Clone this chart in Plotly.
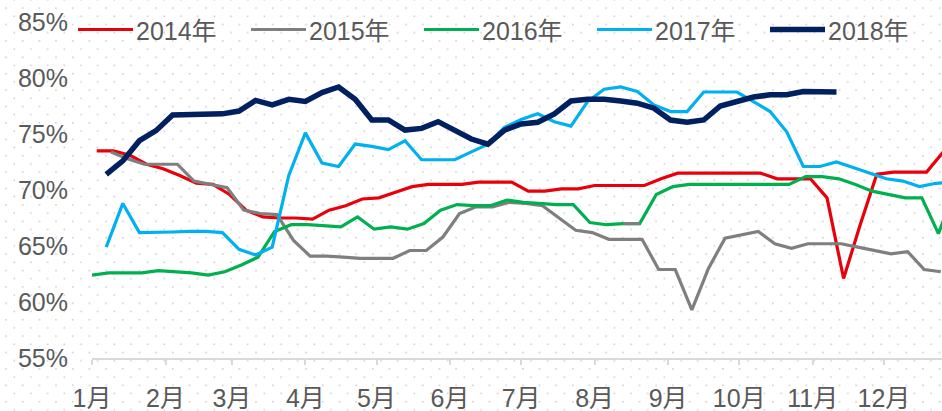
import base64
import plotly.graph_objects as go

# ---------------- data ----------------
series_names = ["2014年", "2015年", "2016年", "2017年", "2018年"]
# first observation day-of-year for each year (weekly data afterwards)
first_day = [3, 9, 1, 7, 7]

v2014 = [73.5, 73.5, 73.1, 72.3, 71.9, 71.3, 70.6, 70.5, 69.6, 68.2,
         67.6, 67.5, 67.5, 67.4, 68.2, 68.6, 69.2, 69.3, 69.8, 70.3,
         70.5, 70.5, 70.5, 70.7, 70.7, 70.7, 69.9, 69.9, 70.1, 70.1,
         70.4, 70.4, 70.4, 70.4, 71.0, 71.5, 71.5, 71.5, 71.5, 71.5,
         71.5, 71.0, 71.0, 71.0, 69.3, 62.1, 66.9, 71.4, 71.6, 71.6,
         71.6, 73.4]
v2015 = [73.4, 72.8, 72.3, 72.3, 72.3, 70.8, 70.5, 70.2, 68.2, 67.9,
         67.8, 65.5, 64.1, 64.1, 64.0, 63.9, 63.9, 63.9, 64.6, 64.6,
         65.8, 67.9, 68.5, 68.5, 68.9, 68.8, 68.6, 67.5, 66.4, 66.2,
         65.6, 65.6, 65.6, 62.9, 62.9, 59.3, 63.0, 65.7, 66.0, 66.3,
         65.2, 64.8, 65.2, 65.2, 65.2, 64.9, 64.6, 64.3, 64.5, 62.9,
         62.7]
v2016 = [62.4, 62.6, 62.6, 62.6, 62.8, 62.7, 62.6, 62.4, 62.7, 63.3,
         64.0, 66.3, 66.9, 66.9, 66.8, 66.7, 67.6, 66.5, 66.7, 66.5,
         67.0, 68.2, 68.7, 68.6, 68.6, 69.1, 68.9, 68.8, 68.7, 68.7,
         67.1, 66.9, 67.0, 67.0, 69.6, 70.3, 70.5, 70.5, 70.5, 70.5,
         70.5, 70.5, 70.5, 71.2, 71.2, 71.0, 70.5, 69.9, 69.6, 69.3,
         69.3, 66.1, 70.0]
v2017 = [64.9, 68.8, 66.2, 66.2, 66.25, 66.3, 66.3, 66.2, 64.7, 64.2,
         64.9, 71.3, 75.1, 72.4, 72.1, 74.1, 73.9, 73.6, 74.4, 72.7,
         72.7, 72.7, 73.4, 74.1, 75.6, 76.3, 76.8, 76.1, 75.7, 77.9,
         79.0, 79.2, 78.8, 77.6, 77.0, 77.0, 78.75, 78.75, 78.75, 77.9,
         77.0, 75.2, 72.1, 72.1, 72.5, 72.0, 71.5, 71.0, 70.8, 70.3,
         70.6, 70.7]
v2018 = [71.4, 72.6, 74.4, 75.3, 76.7, 76.7, 76.8, 76.8, 77.05, 78.0,
         77.6, 78.1, 77.9, 78.7, 79.2, 78.1, 76.25, 76.25, 75.35, 75.5,
         76.1, 75.3, 74.55, 74.1, 75.35, 75.9, 76.05, 76.8, 77.95, 78.1,
         78.1, 77.95, 77.75, 77.3, 76.25, 76.05, 76.25, 77.5, 77.95, 78.3,
         78.5, 78.5, 78.8, 78.8, 78.75]
values = [v2014, v2015, v2016, v2017, v2018]

month_labels = ["1月", "2月", "3月", "4月", "5月", "6月", "7月", "8月",
                "9月", "10月", "11月", "12月"]
month_start_day = [1, 32, 60, 91, 121, 152, 182, 213, 244, 274, 305, 335]
y_ticks = [55, 60, 65, 70, 75, 80, 85]

# ---------------- style ----------------
colors = ["#E8000B", "#7F7F7F", "#00B050", "#00B0F0", "#002060"]
widths = [3.2, 3.2, 3.2, 3.2, 5.5]
W, H = 942, 411
ML, MR, MT, MB = 92, 0, 22, 53
PW, PH = W - ML - MR, H - MT - MB
FONT = "Liberation Sans, Arial, Noto Sans CJK SC, sans-serif"
TXT = "#595959"


def pxx(px):
    return (px - ML) / PW


def pxy(py):
    return (H - MB - py) / PH


fig = go.Figure()
for name, fd, vals, c, w in zip(series_names, first_day, values, colors, widths):
    xs = [fd + 7 * i for i in range(len(vals))]
    fig.add_trace(go.Scatter(x=xs, y=vals, mode="lines", name=name,
                             line=dict(color=c, width=w), showlegend=False,
                             hoverinfo="skip"))
    if name == "2016年":
        # short grey segment visible on the 2016 line in the original
        fig.add_trace(go.Scatter(x=xs[32:34], y=vals[32:34], mode="lines",
                                 line=dict(color="#7F7F7F", width=w),
                                 showlegend=False, hoverinfo="skip"))

# custom legend (long line samples like the original)
shapes = []
annotations = []
for k, (name, c, w) in enumerate(zip(series_names, colors, widths)):
    x0 = 78 + 173 * k
    shapes.append(dict(type="line", xref="paper", yref="paper",
                       x0=pxx(x0), x1=pxx(x0 + 55), y0=pxy(29.5), y1=pxy(29.5),
                       line=dict(color=c, width=w)))
    annotations.append(dict(text=name, xref="paper", yref="paper",
                            x=pxx(x0 + 56), y=pxy(31), xanchor="left",
                            yanchor="middle", showarrow=False,
                            font=dict(family=FONT, size=25, color=TXT)))

# dotted background pattern
svg = (
    f"<svg xmlns='http://www.w3.org/2000/svg' width='{W}' height='{H}' "
    f"viewBox='0 0 {W} {H}'><defs><pattern id='p' patternUnits='userSpaceOnUse' "
    "x='5.2' y='7.3' width='16.67' height='16.4'>"
    "<rect x='0' y='0' width='1.6' height='1.6' fill='#cfcfcf'/>"
    "<rect x='8.335' y='8.2' width='1.6' height='1.6' fill='#cfcfcf'/>"
    "</pattern></defs><rect x='0' y='0' width='100%' height='100%' fill='url(#p)'/></svg>"
)
src = "data:image/svg+xml;base64," + base64.b64encode(svg.encode()).decode()

fig.update_layout(
    width=W, height=H, autosize=False,
    margin=dict(l=ML, r=MR, t=MT, b=MB, pad=0, autoexpand=False),
    paper_bgcolor="white", plot_bgcolor="rgba(0,0,0,0)",
    font=dict(family=FONT, size=25, color=TXT),
    shapes=shapes, annotations=annotations,
    images=[dict(source=src, xref="paper", yref="paper",
                 x=-ML / PW, y=1 + MT / PH, sizex=W / PW, sizey=H / PH,
                 xanchor="left", yanchor="top", sizing="stretch",
                 layer="below", opacity=1)],
    xaxis=dict(range=[1, 359.5], tickmode="array", tickvals=month_start_day,
               ticktext=month_labels, showgrid=False, zeroline=False,
               showline=True, linecolor="#D9D9D9", linewidth=2,
               ticks="outside", ticklen=5, tickwidth=1.5, tickcolor="#D9D9D9",
               ticklabelstandoff=12, automargin=False,
               tickfont=dict(family=FONT, size=25, color=TXT)),
    yaxis=dict(range=[55, 85], tickmode="array", tickvals=y_ticks,
               ticktext=[f"{v}%" for v in y_ticks], showgrid=False,
               zeroline=False, showline=False, ticks="",
               ticklabelstandoff=23, automargin=False,
               tickfont=dict(family=FONT, size=25, color=TXT)),
)

fig.write_html(
    "out.html",
    config={"displayModeBar": False},
    post_script="document.body.style.margin='0';document.body.style.overflow='hidden';",
)
